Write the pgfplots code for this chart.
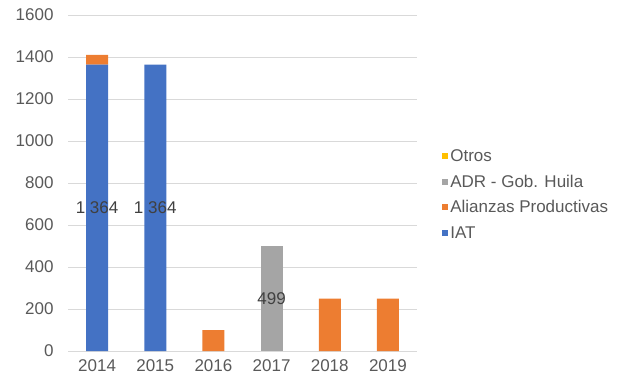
\documentclass[border=0pt]{standalone}
\usepackage{fontspec}
\setmainfont{Liberation Sans}
\usepackage{pgfplots}
\pgfplotsset{compat=1.18}
\definecolor{iat}{HTML}{4472C4}
\definecolor{alianzas}{HTML}{ED7D31}
\definecolor{adr}{HTML}{A5A5A5}
\definecolor{otros}{HTML}{FFC000}
\definecolor{txt}{HTML}{595959}

\begin{document}
\begin{tikzpicture}[x=1pt,y=1pt]
\useasboundingbox (0,0) rectangle (618,383);
\begin{axis}[
  at={(68pt,32pt)}, anchor=south west,
  scale only axis, width=349pt, height=336pt,
  ybar stacked, bar width=22pt,
  ymin=0, ymax=1600, ytick={0,200,...,1600},
  xmin=-0.5, xmax=5.5, xtick={0,...,5},
  xticklabels={2014,2015,2016,2017,2018,2019},
  ymajorgrids, grid style={draw=black!15, line width=0.8pt},
  axis line style={draw=none}, major tick length=0pt,
  /pgf/number format/assume math mode=true,
  /pgf/number format/1000 sep={},
  tick label style={font=\fontsize{17}{19}\selectfont, text=txt},
  yticklabel style={xshift=-11pt},
  xticklabel style={yshift=-5pt},
  reverse legend,
  legend cell align=left,
  legend image code/.code={\fill[#1] (0pt,-3pt) rectangle (6pt,3pt);},
  legend style={at={(1.072,0.466)}, anchor=west, draw=none, fill=none,
    inner sep=0pt, row sep=8pt,
    font=\fontsize{17}{19}\selectfont, text=txt},
]
\addplot[fill=iat, draw=none, point meta=explicit symbolic, nodes near coords,
  every node near coord/.append style={anchor=center,
    font=\fontsize{17}{19}\selectfont, text=black!75}]
  coordinates {(0,1364)[1 364] (1,1364)[1 364] (2,0)[] (3,0)[] (4,0)[] (5,0)[]};
\addlegendentry{IAT}
\addplot[fill=alianzas, draw=none]
  coordinates {(0,46) (1,0) (2,100) (3,0) (4,250) (5,250)};
\addlegendentry{Alianzas Productivas}
\addplot[fill=adr, draw=none, point meta=explicit symbolic, nodes near coords,
  every node near coord/.append style={anchor=center,
    font=\fontsize{17}{19}\selectfont, text=black!75}]
  coordinates {(0,0)[] (1,0)[] (2,0)[] (3,499)[499] (4,0)[] (5,0)[]};
\addlegendentry{ADR - Gob. Huila}
\addplot[fill=otros, draw=none]
  coordinates {(0,0) (1,0) (2,0) (3,0) (4,0) (5,0)};
\addlegendentry{Otros}
\end{axis}
\end{tikzpicture}
\end{document}
